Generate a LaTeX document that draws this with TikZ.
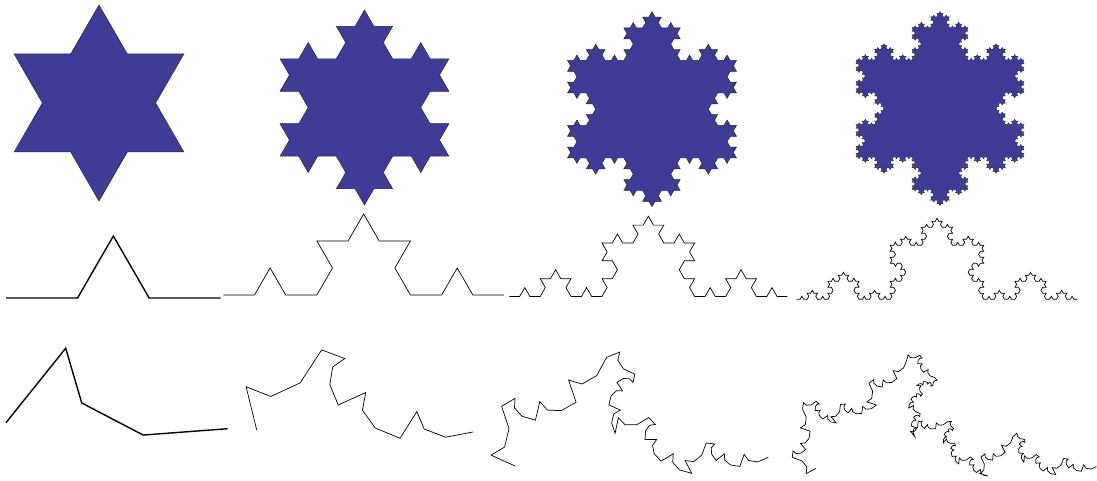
\documentclass[tikz,border=0pt]{standalone}
\definecolor{flakeBlue}{HTML}{3F3C97}
\usepackage{tikz}
\usetikzlibrary{lindenmayersystems}
\usepackage{xcolor}

\pgfdeclarelindenmayersystem{flake}{\rule{F -> F-F++F-F}}
\pgfdeclarelindenmayersystem{kochup}{\rule{F -> F+F--F+F}}

% generator of the irregular curve: three inner points, relative to the chord
\newcommand\rkgen[6]{\gdef\rkpr{#1}\gdef\rkpi{#2}\gdef\rkqr{#3}\gdef\rkqi{#4}%
  \gdef\rksr{#5}\gdef\rksi{#6}}
\newcommand\rkbasegen{\rkgen{0.260}{0.343}{0.339}{0.098}{0.620}{-0.039}}

% one segment of the irregular curve, split into four parts
\newcommand\rkseg[5]{%
  \ifnum#1=0
    \xdef\rkpath{\rkpath -- (#4,#5)}%
  \else
    \begingroup
      \pgfmathsetmacro\rkdx{#4-#2}%
      \pgfmathsetmacro\rkdy{#5-#3}%
      \pgfmathtruncatemacro\rklv{#1-1}%
      \pgfmathsetmacro\rkax{#2+(\rkpr)*\rkdx-(\rkpi)*\rkdy}%
      \pgfmathsetmacro\rkay{#3+(\rkpi)*\rkdx+(\rkpr)*\rkdy}%
      \pgfmathsetmacro\rkbx{#2+(\rkqr)*\rkdx-(\rkqi)*\rkdy}%
      \pgfmathsetmacro\rkby{#3+(\rkqi)*\rkdx+(\rkqr)*\rkdy}%
      \pgfmathsetmacro\rkcx{#2+(\rksr)*\rkdx-(\rksi)*\rkdy}%
      \pgfmathsetmacro\rkcy{#3+(\rksi)*\rkdx+(\rksr)*\rkdy}%
      \edef\rknext{\noexpand\rkbasegen
        \noexpand\rkseg{\rklv}{#2}{#3}{\rkax}{\rkay}%
        \noexpand\rkseg{\rklv}{\rkax}{\rkay}{\rkbx}{\rkby}%
        \noexpand\rkseg{\rklv}{\rkbx}{\rkby}{\rkcx}{\rkcy}%
        \noexpand\rkseg{\rklv}{\rkcx}{\rkcy}{#4}{#5}}%
    \expandafter\endgroup\rknext
  \fi}

\begin{document}
\begin{tikzpicture}[x=1pt, y=1pt,
  flakefill/.style={fill=flakeBlue, draw=black!85, line width=0.5pt,
    line join=miter},
  kline/.style={draw=black, line width=0.7pt},
  thick line/.style={draw=black, line width=1.4pt}]
  \useasboundingbox (0,0) rectangle (1097,481);

  % snowflakes
  \path[flakefill, shift={(14.13,329)},
    l-system={flake, axiom=F++F++F, order=1, step=56.58pt, angle=60}]
    lindenmayer system -- cycle;
  \path[flakefill, shift={(280.06,324.75)},
    l-system={flake, axiom=F++F++F, order=2, step=18.76pt, angle=60}]
    lindenmayer system -- cycle;
  \path[flakefill, shift={(567.56,323.05)},
    l-system={flake, axiom=F++F++F, order=3, step=6.255pt, angle=60}]
    lindenmayer system -- cycle;
  \path[flakefill, line width=0.4pt, shift={(855.99,324)},
    l-system={flake, axiom=F++F++F, order=4, step=2.074pt, angle=60}]
    lindenmayer system -- cycle;

  % Koch curves
  \path[thick line, shift={(6,183)},
    l-system={kochup, axiom=F, order=1, step=71.57pt, angle=60}]
    lindenmayer system;
  \path[kline, shift={(223.3,186)},
    l-system={kochup, axiom=F, order=2, step=31.19pt, angle=60}]
    lindenmayer system;
  \path[kline, shift={(509.3,184.5)},
    l-system={kochup, axiom=F, order=3, step=10.30pt, angle=60}]
    lindenmayer system;
  \path[kline, shift={(796.7,181.7)},
    l-system={kochup, axiom=F, order=4, step=3.464pt, angle=60}]
    lindenmayer system;

  % irregular curves
  \rkbasegen\gdef\rkpath{}\rkseg{1}{6}{58.3}{227.7}{52.3}
  \path[thick line] (6,58.3) \rkpath;
  \rkgen{0.297}{0.373}{0.376}{0.119}{0.663}{-0.032}%
  \gdef\rkpath{}\rkseg{2}{256.7}{51}{473}{49}
  \path[kline] (256.7,51) \rkpath;
  \rkgen{0.376}{0.416}{0.399}{0.115}{0.696}{-0.053}%
  \gdef\rkpath{}\rkseg{3}{515}{15}{768.3}{23.7}
  \path[kline] (515,15) \rkpath;
  \rkgen{0.325}{0.382}{0.353}{0.111}{0.613}{-0.031}%
  \gdef\rkpath{}\rkseg{4}{816}{12.7}{1096.5}{14.3}
  \path[kline] (816,12.7) \rkpath;
\end{tikzpicture}
\end{document}
